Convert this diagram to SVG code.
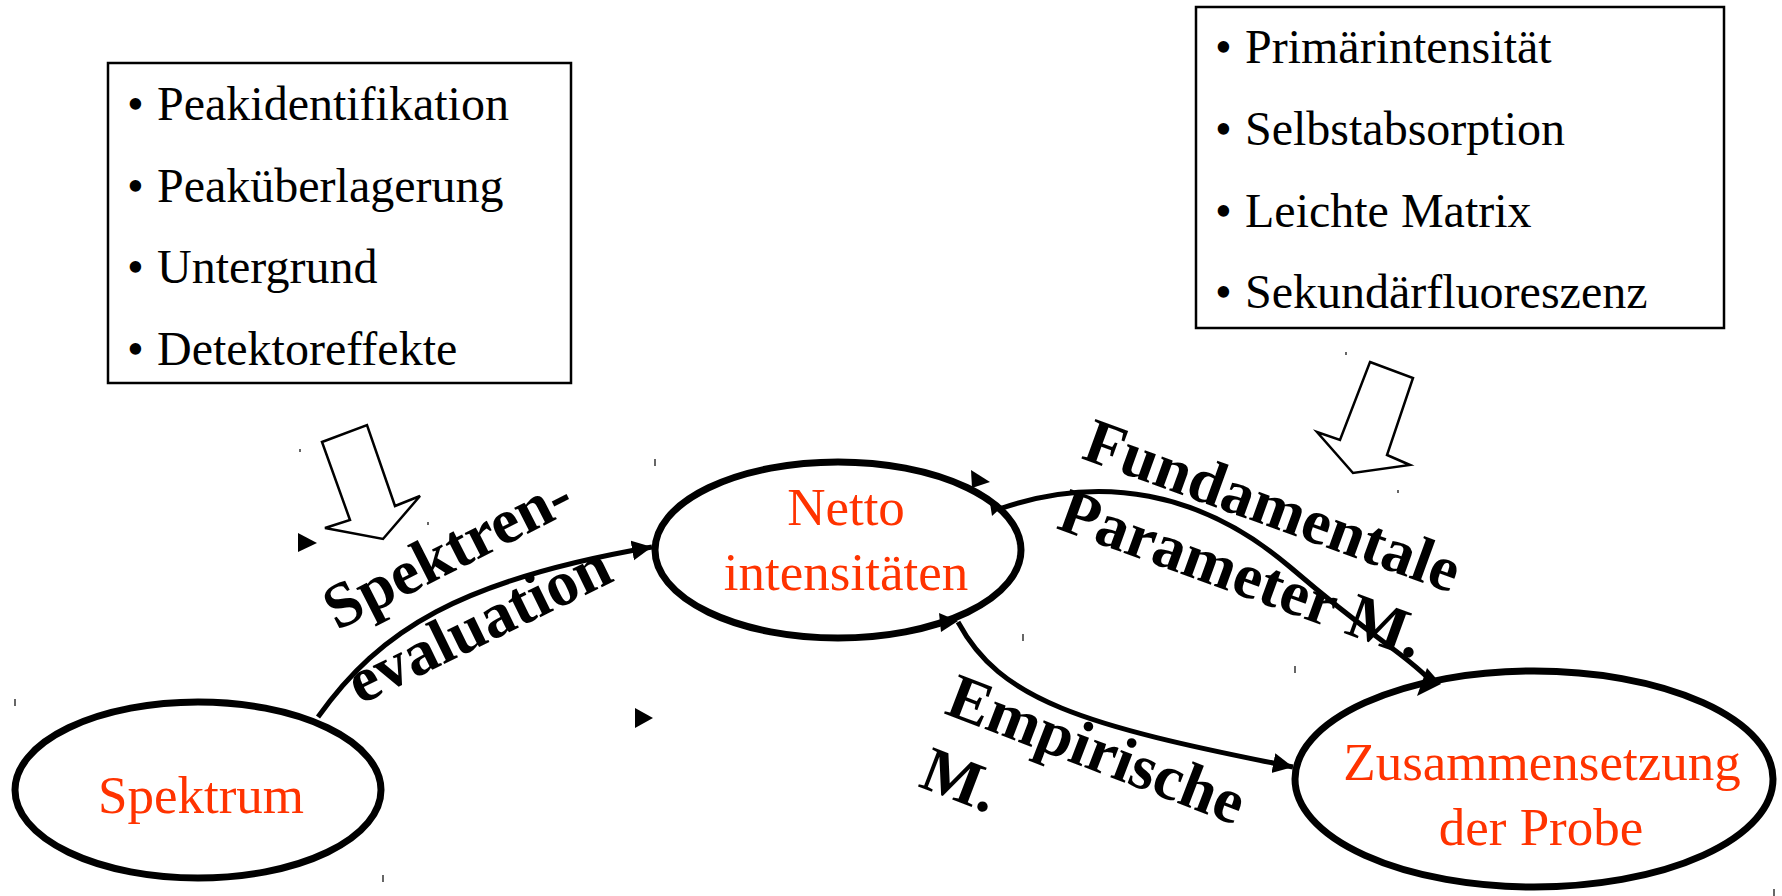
<svg xmlns="http://www.w3.org/2000/svg" width="1782" height="896" viewBox="0 0 1782 896">
<style>
.box{fill:#fff;stroke:#000;stroke-width:2.5}
.item{font-family:"Liberation Serif","Times New Roman",serif;font-size:48px;fill:#000}
.node{fill:#fff;stroke:#000;stroke-width:7}
.ntext{font-family:"Liberation Serif","Times New Roman",serif;font-size:53px;fill:#FF3300;text-anchor:middle}
.lbl{font-family:"Liberation Serif","Times New Roman",serif;font-size:64px;font-weight:bold;fill:#000}
.conn{fill:none;stroke:#000;stroke-width:5}
.hollow{fill:#fff;stroke:#000;stroke-width:2.5;stroke-linejoin:miter}
.tick{stroke:#000;stroke-width:1.2}
</style>
<defs>
<marker id="ah" markerUnits="userSpaceOnUse" markerWidth="22" markerHeight="22" refX="20" refY="10" orient="auto">
<path d="M0,0 L20,10 L0,20 z" fill="#000"/>
</marker>
</defs>
<rect width="1782" height="896" fill="#fff"/>

<g id="box-spektrenevaluation">
<rect class="box" x="108" y="63" width="463" height="320"/>
<text class="item" x="127" y="120">•</text><text class="item" x="157" y="120">Peakidentifikation</text>
<text class="item" x="127" y="202">•</text><text class="item" x="157" y="202">Peaküberlagerung</text>
<text class="item" x="127" y="283">•</text><text class="item" x="157" y="283">Untergrund</text>
<text class="item" x="127" y="365">•</text><text class="item" x="157" y="365">Detektoreffekte</text>
</g>

<g id="box-matrixeffekte">
<rect class="box" x="1196" y="7" width="528" height="321"/>
<text class="item" x="1215" y="63">•</text><text class="item" x="1245" y="63">Primärintensität</text>
<text class="item" x="1215" y="145">•</text><text class="item" x="1245" y="145">Selbstabsorption</text>
<text class="item" x="1215" y="227">•</text><text class="item" x="1245" y="227">Leichte Matrix</text>
<text class="item" x="1215" y="308">•</text><text class="item" x="1245" y="308">Sekundärfluoreszenz</text>
</g>

<g id="hollow-arrows">
<polygon class="hollow" points="322,442 367,425 395,506 420,496 383,539 325,528 350,520"/>
<polygon class="hollow" points="1370,362 1413,378 1387,455 1410,465 1353,473 1317,432 1340,440"/>
</g>

<g id="node-spektrum">
<ellipse class="node" cx="198" cy="790" rx="183" ry="88"/>
<text class="ntext" x="201" y="813">Spektrum</text>
</g>

<g id="node-netto">
<ellipse class="node" cx="838" cy="550" rx="183" ry="88"/>
<text class="ntext" x="846" y="525">Netto</text>
<text class="ntext" x="846" y="590">intensitäten</text>
</g>

<g id="node-zusammensetzung">
<ellipse class="node" cx="1534" cy="779" rx="239" ry="108"/>
<text class="ntext" x="1542" y="780">Zusammensetzung</text>
<text class="ntext" x="1541" y="845">der Probe</text>
</g>

<g id="connectors">
<path class="conn" d="M318,717 C380,630 460,580 652,547" marker-end="url(#ah)"/>
<path class="conn" d="M1002,508 C1100,475 1200,490 1290,567 S1400,650 1428,678"/>
<polygon points="1427,668 1441,684 1417,696" fill="#000"/>
<path class="conn" d="M958,622 C1000,700 1080,725 1293,767" marker-end="url(#ah)"/>
<polygon points="298,533 317,543 298,552" fill="#000"/>
<polygon points="635,708 653,718 635,728" fill="#000"/>
<polygon points="971,470 990,482 972,488" fill="#000"/>
<polygon points="939,613 958,621 941,632" fill="#000"/>
<polygon points="990,503 1003,506 992,516" fill="#000"/>
</g>

<g id="labels">
<text class="lbl" transform="translate(337,631) rotate(-27)">Spektren-</text>
<text class="lbl" transform="translate(360,705) rotate(-26)">evaluation</text>
<text class="lbl" transform="translate(1080,458) rotate(20)">Fundamentale</text>
<text class="lbl" transform="translate(1055,528) rotate(20)">Parameter M.</text>
<text class="lbl" transform="translate(943,713) rotate(21)">Empirische</text>
<text class="lbl" transform="translate(917,786) rotate(21)">M.</text>
</g>

<g id="ticks">
<line class="tick" x1="15" y1="699" x2="15" y2="706"/>
<line class="tick" x1="383" y1="875" x2="383" y2="882"/>
<line class="tick" x1="655" y1="459" x2="655" y2="466"/>
<line class="tick" x1="1023" y1="634" x2="1023" y2="641"/>
<line class="tick" x1="1295" y1="666" x2="1295" y2="673"/>
<line class="tick" x1="1774" y1="889" x2="1774" y2="896"/>
<line class="tick" x1="300" y1="449" x2="300" y2="452"/>
<line class="tick" x1="428" y1="522" x2="428" y2="525"/>
<line class="tick" x1="1346" y1="352" x2="1346" y2="355"/>
<line class="tick" x1="1398" y1="490" x2="1398" y2="493"/>
</g>
</svg>
